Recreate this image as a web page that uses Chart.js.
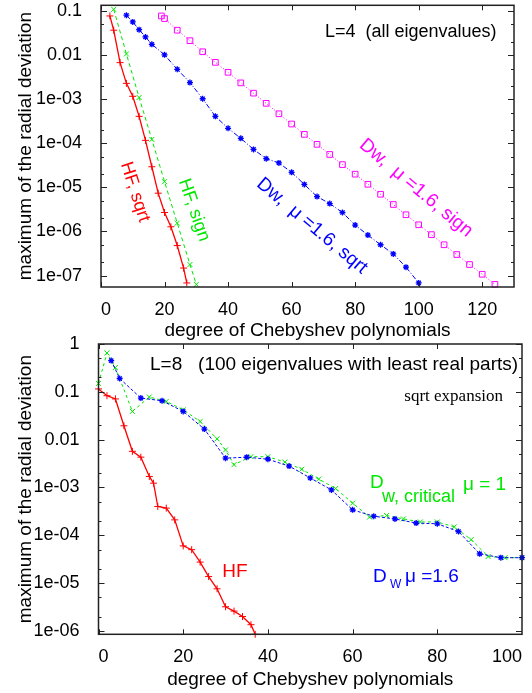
<!DOCTYPE html>
<html>
<head>
<meta charset="utf-8">
<script src="https://cdn.jsdelivr.net/npm/chart.js@4.4.1/dist/chart.umd.min.js"></script>
<style>
  html, body { margin: 0; padding: 0; background: #fff; }
  #wrap { position: relative; width: 532px; height: 693px; }
  canvas { position: absolute; left: 0; }
  #top { top: 0; }
  #bottom { top: 325px; }
</style>
</head>
<body>
<div id="wrap">
  <canvas id="top" width="532" height="343"></canvas>
  <canvas id="bottom" width="532" height="368"></canvas>
</div>
<script>
// Datos del panel superior (L=4)
var topXTicks = [0, 20, 40, 60, 80, 100, 120, 130];
var topXLabels = ['0', '20', '40', '60', '80', '100', '120', ''];
var topYTicks = [0.1, 0.01, 1e-3, 1e-4, 1e-5, 1e-6, 1e-7];
var topYLabels = ['0.1', '0.01', '1e-03', '1e-04', '1e-05', '1e-06', '1e-07'];

var hfSqrtX = [2.8, 4, 6, 8, 10, 12, 14, 16, 18, 20, 22, 24, 26, 27];
var hfSqrtY = [0.078, 0.037, 6.8e-3, 2.3e-3, 1.17e-3, 4.1e-4, 1.17e-4, 2.95e-5, 7.4e-6, 2.7e-6, 1.28e-6, 4.8e-7, 1.48e-7, 6.8e-8];

var hfSignX = [4, 8, 12, 16, 20, 24, 28, 30];
var hfSignY = [0.11, 0.0107, 1.1e-3, 1.23e-4, 1.35e-5, 1.55e-6, 1.78e-7, 6.3e-8];

var dwSqrtX = [8, 10, 12, 14, 16, 20, 24, 28, 32, 36, 40, 44, 48, 52, 56, 60, 64, 68, 72, 76, 80, 84, 88, 92, 96, 100];
var dwSqrtY = [0.081, 0.057, 0.038, 0.026, 0.0177, 0.0102, 4.8e-3, 2.4e-3, 1.03e-3, 4.1e-4, 2.2e-4, 1.3e-4, 7.3e-5,
               4.5e-5, 3.6e-5, 2.2e-5, 1.17e-5, 6.2e-6, 4.3e-6, 2.7e-6, 1.4e-6, 8.3e-7, 5e-7, 3.1e-7, 1.55e-7, 6.8e-8];

var dwSignX = [19, 20, 24, 28, 32, 36, 40, 44, 48, 52, 56, 60, 64, 68, 72, 76, 80, 84, 88, 92, 96, 100, 104, 108, 112, 116, 120, 124];
var dwSignY = [0.078, 0.068, 0.037, 0.0214, 0.012, 6.9e-3, 4.1e-3, 2.36e-3, 1.38e-3, 8.1e-4, 4.7e-4, 2.75e-4, 1.6e-4, 9.5e-5,
               5.6e-5, 3.3e-5, 2e-5, 1.18e-5, 7e-6, 4.1e-6, 2.4e-6, 1.42e-6, 8.5e-7, 5e-7, 3e-7, 1.78e-7, 1.07e-7, 6.3e-8];

// Datos del panel inferior (L=8)
var botXTicks = [0, 20, 40, 60, 80, 100];
var botXLabels = ['0', '20', '40', '60', '80', '100'];
var botYTicks = [1, 0.1, 0.01, 1e-3, 1e-4, 1e-5, 1e-6];
var botYLabels = ['1', '0.1', '0.01', '1e-03', '1e-04', '1e-05', '1e-06'];

var hfX = [0, 2, 4, 6, 8, 10, 12, 13, 14, 16, 18, 20, 22, 24, 26, 28, 30, 32, 34, 36, 37];
var hfY = [0.115, 0.083, 0.071, 0.0195, 5.7e-3, 4.3e-3, 1.7e-3, 1.23e-3, 4e-4, 3.7e-4, 2.1e-4, 6e-5, 5e-5,
           2.75e-5, 1.37e-5, 7.6e-6, 3.2e-6, 2.6e-6, 2e-6, 1.35e-6, 8.5e-7];

var critX = [0, 2, 4, 8, 12, 16, 20, 24, 28, 30, 32, 36, 40, 44, 48, 52, 56, 60, 64, 68, 72, 76, 80, 84, 88, 92, 96, 100];
var critY = [0.15, 0.65, 0.32, 0.039, 0.078, 0.063, 0.042, 0.024, 0.0104, 6.1e-3, 3e-3, 4.4e-3, 4.4e-3, 3.4e-3,
             2.4e-3, 1.5e-3, 9.5e-4, 4.7e-4, 2.4e-4, 2.6e-4, 2.2e-4, 1.9e-4, 1.9e-4, 1.5e-4, 8.1e-5, 3.6e-5, 3.4e-5, 3.4e-5];

var dwX = [3, 5, 10, 15, 20, 25, 30, 35, 40, 45, 50, 55, 60, 65, 70, 75, 80, 85, 90, 95, 100];
var dwY = [0.45, 0.19, 0.074, 0.065, 0.039, 0.0166, 4.1e-3, 4.3e-3, 3.9e-3, 2.8e-3, 1.58e-3, 8.9e-4, 3.4e-4,
           2.5e-4, 2.2e-4, 1.8e-4, 1.74e-4, 1.2e-4, 4.1e-5, 3.4e-5, 3.4e-5];

var SANS = "'Liberation Sans', Arial, sans-serif";
var SERIF = "'Liberation Serif', 'Times New Roman', serif";
var RED = '#ff0000', GREEN = '#00e800', BLUE = '#0000ff', MAGENTA = '#ff00ff';

function puntos(xs, ys) {
    return xs.map(function(x, i) { return { x: x, y: ys[i] }; });
}

function serie(xs, ys, color, estilo, dash, radio, ancho, borde, orden) {
    return {
        data: puntos(xs, ys),
        borderColor: color,
        backgroundColor: 'rgba(0,0,0,0)',
        borderWidth: ancho,
        borderDash: dash,
        pointStyle: estilo,
        pointRadius: radio,
        pointBorderColor: color,
        pointBackgroundColor: 'rgba(0,0,0,0)',
        pointBorderWidth: borde,
        tension: 0,
        fill: false,
        clip: false,
        order: orden
    };
}

// Marco con marcas hacia dentro (como gnuplot)
var marco = {
    id: 'marco',
    afterDatasetsDraw: function(chart) {
        var ctx = chart.ctx, a = chart.chartArea, sx = chart.scales.x, sy = chart.scales.y;
        ctx.save();
        ctx.strokeStyle = '#222';
        ctx.lineWidth = 1;
        ctx.beginPath();
        sx.ticks.forEach(function(t) {
            if (t.label === '' || t.value >= sx.max) return;
            var px = Math.round(sx.getPixelForValue(t.value)) + 0.5;
            ctx.moveTo(px, a.bottom); ctx.lineTo(px, a.bottom - 5);
            ctx.moveTo(px, a.top); ctx.lineTo(px, a.top + 5);
        });
        sy.ticks.forEach(function(t) {
            var py = Math.round(sy.getPixelForValue(t.value)) + 0.5;
            ctx.moveTo(a.left, py); ctx.lineTo(a.left + 6, py);
            ctx.moveTo(a.right, py); ctx.lineTo(a.right - 6, py);
            [2, 5].forEach(function(m) {
                var v = t.value * m;
                if (v > sy.max) return;
                var pm = Math.round(sy.getPixelForValue(v)) + 0.5;
                ctx.moveTo(a.left, pm); ctx.lineTo(a.left + 3, pm);
                ctx.moveTo(a.right, pm); ctx.lineTo(a.right - 3, pm);
            });
        });
        ctx.stroke();
        ctx.lineWidth = 1.5;
        ctx.strokeRect(a.left, a.top, a.right - a.left, a.bottom - a.top);
        ctx.restore();
    }
};

// Textos sueltos dentro del gráfico
function notas(items) {
    return {
        id: 'notas',
        afterDraw: function(chart) {
            var ctx = chart.ctx;
            items.forEach(function(n) {
                ctx.save();
                ctx.translate(n.x, n.y);
                ctx.rotate((n.angle || 0) * Math.PI / 180);
                ctx.font = n.font || ('18px ' + SANS);
                ctx.fillStyle = n.color || '#000';
                ctx.textAlign = n.align || 'left';
                ctx.textBaseline = 'middle';
                ctx.fillText(n.text, 0, 0);
                ctx.restore();
            });
        }
    };
}

function opciones(cfg) {
    return {
        responsive: false,
        animation: false,
        devicePixelRatio: 1,
        layout: { padding: cfg.padding },
        plugins: { legend: { display: false }, tooltip: { enabled: false } },
        scales: {
            x: {
                type: 'linear',
                min: cfg.xMin, max: cfg.xMax,
                grid: { display: false },
                border: { display: false },
                afterBuildTicks: function(s) { s.ticks = cfg.xTicks.map(function(v) { return { value: v }; }); },
                afterFit: function(s) { s.height = cfg.xHeight; s.paddingLeft = 0; s.paddingRight = 0; },
                ticks: {
                    autoSkip: false, maxRotation: 0, align: 'inner', padding: 4,
                    color: '#000', font: { family: SANS, size: 18 },
                    callback: function(v) { return cfg.xLabels[cfg.xTicks.indexOf(v)]; }
                },
                title: {
                    display: true, text: 'degree of Chebyshev polynomials', color: '#000',
                    font: { family: SANS, size: 19 }, padding: { top: 0, bottom: cfg.xTitlePad }
                }
            },
            y: {
                type: 'logarithmic',
                min: cfg.yMin, max: cfg.yMax,
                grid: { display: false },
                border: { display: false },
                afterBuildTicks: function(s) { s.ticks = cfg.yTicks.map(function(v) { return { value: v }; }); },
                afterFit: function(s) { s.width = cfg.yWidth; s.paddingTop = 0; s.paddingBottom = 0; },
                ticks: {
                    autoSkip: false, padding: 11,
                    color: '#000', font: { family: SANS, size: 18 },
                    callback: function(v) { return cfg.yLabels[cfg.yTicks.indexOf(v)]; }
                },
                title: {
                    display: true, text: 'maximum of the radial deviation', color: '#000',
                    font: { family: SANS, size: 19 }, padding: { top: 14, bottom: 0 }
                }
            }
        }
    };
}

document.addEventListener('DOMContentLoaded', function() {
    var ctxTop = document.getElementById('top').getContext('2d');
    var ctxBottom = document.getElementById('bottom').getContext('2d');

    new Chart(ctxTop, {
        type: 'line',
        data: {
            datasets: [
                serie(hfSqrtX, hfSqrtY, RED, 'cross', [], 3.5, 1.3, 1, 0),
                serie(hfSignX, hfSignY, GREEN, 'crossRot', [4, 3], 3.5, 1, 1, 1),
                serie(dwSqrtX, dwSqrtY, BLUE, 'star', [5, 2, 1, 2], 3, 1, 1.3, 2),
                serie(dwSignX, dwSignY, MAGENTA, 'rect', [1, 2], 4, 1, 1, 3)
            ]
        },
        options: opciones({
            padding: { left: 0, right: 18, top: 4, bottom: 0 },
            xMin: 0, xMax: 130, xTicks: topXTicks, xLabels: topXLabels, xHeight: 56, xTitlePad: 1,
            yMin: 5.5e-8, yMax: 0.136, yTicks: topYTicks, yLabels: topYLabels, yWidth: 101
        }),
        plugins: [marco, notas([
            { text: 'L=4  (all eigenvalues)', x: 325, y: 32 },
            { text: 'HF, sqrt', x: 135, y: 192, angle: 72, align: 'center', color: RED },
            { text: 'HF, sign', x: 194, y: 210, angle: 71, align: 'center', color: GREEN },
            { text: 'Dw,  \u03bc =1.6, sqrt', x: 312, y: 226, angle: 40, align: 'center', color: BLUE, font: '19px ' + SANS },
            { text: 'Dw,  \u03bc =1.6, sign', x: 416, y: 188, angle: 40, align: 'center', color: MAGENTA, font: '19px ' + SANS }
        ])]
    });

    new Chart(ctxBottom, {
        type: 'line',
        data: {
            datasets: [
                serie(hfX, hfY, RED, 'cross', [], 3.5, 1.3, 1, 2),
                serie(critX, critY, GREEN, 'crossRot', [3, 3], 3.5, 1, 1, 1),
                serie(dwX, dwY, BLUE, 'star', [3, 2], 3, 1, 1.3, 0)
            ]
        },
        options: opciones({
            padding: { left: 0, right: 10, top: 19, bottom: 0 },
            xMin: 0, xMax: 100, xTicks: botXTicks, xLabels: botXLabels, xHeight: 58.7, xTitlePad: 2,
            yMin: 8.5e-7, yMax: 1, yTicks: botYTicks, yLabels: botYLabels, yWidth: 98.5
        }),
        plugins: [marco, notas([
            { text: 'L=8   (100 eigenvalues with least real parts)', x: 150, y: 40, font: '19px ' + SANS },
            { text: 'sqrt expansion', x: 503, y: 72, align: 'right', font: '17px ' + SERIF },
            { text: 'D', x: 370, y: 158, color: GREEN, font: '19px ' + SANS },
            { text: 'w, critical', x: 382, y: 172, color: GREEN, font: '18px ' + SANS },
            { text: '\u03bc = 1', x: 463, y: 160, color: GREEN, font: '19px ' + SANS },
            { text: 'HF', x: 235, y: 247, align: 'center', color: RED, font: '19px ' + SANS },
            { text: 'D', x: 373, y: 252, color: BLUE, font: '19px ' + SANS },
            { text: 'W', x: 390, y: 260, color: BLUE, font: '12px ' + SANS },
            { text: '\u03bc =1.6', x: 405, y: 252, color: BLUE, font: '19px ' + SANS }
        ])]
    });
});
</script>
</body>
</html>
